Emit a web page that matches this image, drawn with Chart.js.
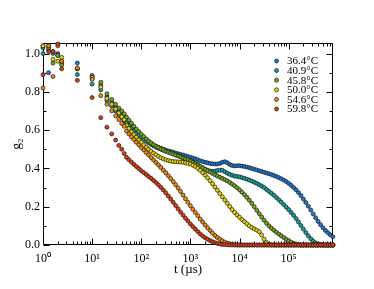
<!DOCTYPE html>
<html><head><meta charset="utf-8">
<script src="https://cdn.jsdelivr.net/npm/chart.js@4"></script>
<style>html,body{margin:0;padding:0;background:#fff;overflow:hidden}canvas{display:block}</style>
</head><body>
<canvas id="c" width="374" height="289"></canvas>
<script>
// lag times (µs)
const times = [1, 1.3, 1.6, 2, 2.4, 5, 10, 15, 20, 25, 30, 35, 40, 45,
  50, 56.2, 63.1, 70.8, 79.4, 89.1,
  100, 112, 126, 141, 158, 178, 200, 224, 251, 282, 316, 355, 398, 447, 501, 562, 631, 708, 794, 891,
  1000, 1122, 1259, 1413, 1585, 1778, 1995, 2239, 2512, 2818, 3162, 3548, 3981, 4467, 5012, 5623, 6310, 7079, 7943, 8913,
  10000, 11220, 12589, 14125, 15849, 17783, 19953, 22387, 25119, 28184, 31623, 35481, 39811, 44668, 50119, 56234, 63096, 70795, 79433, 89125,
  100000, 112202, 125893, 141254, 158489, 177828, 199526, 223872, 251189, 281838, 316228, 354813, 398107, 446684, 501187, 562341, 630957, 707946, 794328];

const g2_364 = [1.03, 0.90, 1.01, 1.00, 0.96, 0.95, 0.885, 0.835, 0.775, 0.745, 0.72, 0.70, 0.685, 0.67,
  0.655, 0.64, 0.625, 0.61, 0.597, 0.585,
  0.572, 0.56, 0.55, 0.54, 0.53, 0.522, 0.515, 0.51, 0.505, 0.5, 0.495, 0.491, 0.488, 0.484, 0.48, 0.477, 0.473, 0.47, 0.466, 0.462,
  0.458, 0.454, 0.45, 0.445, 0.44, 0.436, 0.432, 0.429, 0.426, 0.424, 0.423, 0.423, 0.426, 0.432, 0.435, 0.43, 0.421, 0.415, 0.413, 0.414,
  0.414, 0.412, 0.41, 0.407, 0.404, 0.4, 0.396, 0.392, 0.388, 0.384, 0.38, 0.376, 0.372, 0.368, 0.363, 0.358, 0.352, 0.346, 0.339, 0.331,
  0.322, 0.312, 0.3, 0.288, 0.274, 0.258, 0.24, 0.222, 0.203, 0.183, 0.162, 0.142, 0.123, 0.106, 0.09, 0.076, 0.064, 0.053, 0.043];

const g2_409 = [1.00, 1.02, 1.00, 0.99, 0.95, 0.89, 0.84, 0.81, 0.755, 0.725, 0.70, 0.68, 0.665, 0.65,
  0.637, 0.623, 0.61, 0.597, 0.585, 0.574,
  0.563, 0.553, 0.543, 0.534, 0.525, 0.518, 0.511, 0.505, 0.5, 0.495, 0.49, 0.486, 0.482, 0.477, 0.472, 0.467, 0.462, 0.456, 0.45, 0.444,
  0.438, 0.432, 0.425, 0.418, 0.41, 0.402, 0.395, 0.39, 0.386, 0.385, 0.386, 0.389, 0.391, 0.39, 0.383, 0.375, 0.369, 0.364, 0.36, 0.358,
  0.356, 0.352, 0.348, 0.344, 0.339, 0.334, 0.328, 0.322, 0.315, 0.308, 0.3, 0.29, 0.28, 0.27, 0.26, 0.248, 0.236, 0.224, 0.211, 0.198,
  0.185, 0.17, 0.155, 0.138, 0.12, 0.102, 0.083, 0.065, 0.048, 0.033, 0.02, 0.011, 0.005, 0.002, 0, 0, 0, 0, 0];

const g2_458 = [1.04, 1.03, 0.95, 0.99, 0.94, 0.92, 0.875, 0.85, 0.79, 0.76, 0.735, 0.715, 0.70, 0.685,
  0.668, 0.652, 0.636, 0.62, 0.605, 0.592,
  0.579, 0.566, 0.554, 0.543, 0.533, 0.524, 0.516, 0.509, 0.502, 0.496, 0.49, 0.485, 0.48, 0.475, 0.47, 0.465, 0.46, 0.455, 0.45, 0.445,
  0.439, 0.432, 0.425, 0.418, 0.41, 0.402, 0.395, 0.388, 0.381, 0.374, 0.367, 0.36, 0.354, 0.348, 0.342, 0.335, 0.327, 0.318, 0.309, 0.299,
  0.288, 0.276, 0.263, 0.249, 0.234, 0.218, 0.2, 0.182, 0.164, 0.146, 0.129, 0.114, 0.1, 0.088, 0.077, 0.067, 0.057, 0.048, 0.039, 0.03,
  0.022, 0.015, 0.009, 0.005, 0.002, 0, 0, 0, 0, 0, 0, 0, 0, 0, 0, 0, 0, 0, 0];

const g2_500 = [1.04, 1.04, 0.97, 0.96, 0.98, 0.92, 0.875, 0.825, 0.765, 0.735, 0.71, 0.69, 0.67, 0.655,
  0.625, 0.608, 0.592, 0.577, 0.563, 0.549,
  0.536, 0.523, 0.511, 0.5, 0.49, 0.48, 0.471, 0.463, 0.456, 0.45, 0.445, 0.441, 0.438, 0.436, 0.435, 0.434, 0.433, 0.432, 0.43, 0.427,
  0.423, 0.417, 0.41, 0.401, 0.39, 0.378, 0.365, 0.351, 0.336, 0.32, 0.303, 0.286, 0.269, 0.252, 0.235, 0.218, 0.201, 0.185, 0.17, 0.157,
  0.145, 0.133, 0.122, 0.111, 0.1, 0.091, 0.084, 0.078, 0.07, 0.052, 0.03, 0.013, 0.004, 0.001, 0, 0, 0, 0, 0, 0,
  0, 0, 0, 0, 0, 0, 0, 0, 0, 0, 0, 0, 0, 0, 0, 0, 0, 0, 0];

const g2_546 = [0.82, 1.04, 0.88, 1.04, 0.96, 0.925, 0.865, 0.78, 0.735, 0.70, 0.675, 0.655, 0.635, 0.62,
  0.595, 0.58, 0.565, 0.551, 0.537, 0.523,
  0.509, 0.496, 0.483, 0.47, 0.457, 0.444, 0.431, 0.418, 0.405, 0.391, 0.377, 0.362, 0.347, 0.331, 0.315, 0.298, 0.28, 0.261, 0.242, 0.223,
  0.205, 0.187, 0.17, 0.153, 0.136, 0.12, 0.105, 0.09, 0.076, 0.062, 0.05, 0.039, 0.03, 0.022, 0.015, 0.01, 0.006, 0.003, 0.001, 0,
  0, 0, 0, 0, 0, 0, 0, 0, 0, 0, 0, 0, 0, 0, 0, 0, 0, 0, 0, 0,
  0, 0, 0, 0, 0, 0, 0, 0, 0, 0, 0, 0, 0, 0, 0, 0, 0, 0, 0];

const g2_598 = [0.89, 1.01, 1.01, 1.05, 0.92, 0.86, 0.77, 0.665, 0.615, 0.58, 0.548, 0.52, 0.50, 0.478,
  0.458, 0.445, 0.433, 0.421, 0.41, 0.399,
  0.388, 0.378, 0.368, 0.358, 0.348, 0.337, 0.326, 0.314, 0.301, 0.287, 0.272, 0.256, 0.24, 0.223, 0.206, 0.189, 0.172, 0.156, 0.14, 0.125,
  0.11, 0.096, 0.083, 0.07, 0.058, 0.047, 0.038, 0.03, 0.023, 0.017, 0.012, 0.008, 0.005, 0.003, 0.002, 0.001, 0, 0, 0, 0,
  0, 0, 0, 0, 0, 0, 0, 0, 0, 0, 0, 0, 0, 0, 0, 0, 0, 0, 0, 0,
  0, 0, 0, 0, 0, 0, 0, 0, 0, 0, 0, 0, 0, 0, 0, 0, 0, 0, 0];

const seriesLabels = ['36.4°C', '40.9°C', '45.8°C', '50.0°C', '54.6°C', '59.8°C'];
const seriesValues = [g2_364, g2_409, g2_458, g2_500, g2_546, g2_598];
const seriesColors = ['#2277d6', '#16a0a0', '#74a61e', '#ecd200', '#f08a0a', '#e23a10'];

const xTickValues = [1, 10, 100, 1000, 10000, 100000];
const xTickLabels = ['10⁰', '10¹', '10²', '10³', '10⁴', '10⁵'];
const yTickValues = [0, 0.2, 0.4, 0.6, 0.8, 1.0];
const yMinorValues = [0.1, 0.3, 0.5, 0.7, 0.9];
const xMinorValues = [];
xTickValues.forEach(d => { for (let m = 2; m <= 9; m++) { if (d * m < 800000) xMinorValues.push(d * m); } });

const FONT = "'Liberation Serif', 'Times New Roman', serif";

const datasets = seriesValues.map((vals, i) => ({
  label: seriesLabels[i],
  data: times.map((t, k) => ({ x: t, y: vals[k] })),
  backgroundColor: seriesColors[i],
  borderColor: '#1a1a1a',
  borderWidth: 0.7,
  pointRadius: 2.0,
  showLine: false,
  clip: false,
  order: seriesValues.length - i
}));

const framePlugin = {
  id: 'frame',
  beforeDatasetsDraw(chart) {
    const { ctx, chartArea: a, scales: { x, y } } = chart;
    ctx.save();
    ctx.strokeStyle = '#000';
    ctx.lineWidth = 1;
    ctx.beginPath();
    const L = Math.round(a.left) + 0.5, R = Math.round(a.right) - 0.5;
    const T = Math.round(a.top) + 0.5, B = Math.round(a.bottom) - 0.5;
    ctx.rect(L, T, R - L, B - T);
    const tickY = (v, len) => {
      const py = Math.round(y.getPixelForValue(v)) + 0.5;
      ctx.moveTo(L, py); ctx.lineTo(L + len, py);
      ctx.moveTo(R, py); ctx.lineTo(R - len, py);
    };
    const tickX = (v, len) => {
      const px = Math.round(x.getPixelForValue(v)) + 0.5;
      ctx.moveTo(px, B); ctx.lineTo(px, B - len);
      ctx.moveTo(px, T); ctx.lineTo(px, T + len);
    };
    yTickValues.forEach(v => tickY(v, 6));
    yMinorValues.forEach(v => tickY(v, 3));
    xTickValues.forEach(v => tickX(v, 6));
    xMinorValues.forEach(v => tickX(v, 3));
    ctx.stroke();
    ctx.restore();
  },
  afterDatasetsDraw(chart) {
    const { ctx } = chart;
    ctx.save();
    ctx.font = '11px ' + FONT;
    ctx.textBaseline = 'middle';
    ctx.textAlign = 'left';
    chart.data.datasets.forEach((ds, i) => {
      const yy = 61 + i * 9.6;
      ctx.beginPath();
      ctx.arc(276.5, yy, 2.0, 0, Math.PI * 2);
      ctx.fillStyle = ds.backgroundColor;
      ctx.fill();
      ctx.lineWidth = 0.7;
      ctx.strokeStyle = '#1a1a1a';
      ctx.stroke();
      ctx.fillStyle = '#000';
      ctx.fillText(ds.label, 287, yy + 0.5);
    });
    ctx.restore();
  }
};

new Chart(document.getElementById('c'), {
  type: 'scatter',
  data: { datasets },
  options: {
    responsive: false,
    animation: false,
    events: [],
    layout: { padding: { left: 0, right: 41, top: 43, bottom: 0 } },
    plugins: { legend: { display: false }, tooltip: { enabled: false } },
    scales: {
      x: {
        type: 'logarithmic',
        min: 1, max: 800000,
        grid: { display: false, drawTicks: false },
        border: { display: false },
        afterFit: s => { s.height = 44; },
        afterBuildTicks: s => { s.ticks = xTickValues.map(v => ({ value: v })); },
        ticks: {
          autoSkip: false, maxRotation: 0, padding: 7,
          color: '#000', font: { family: FONT, size: 12 },
          callback: (v) => { const k = xTickValues.indexOf(v); return k >= 0 ? xTickLabels[k] : ''; }
        },
        title: { display: true, text: 't (µs)', color: '#000', font: { family: FONT, size: 13 }, padding: { top: 0, bottom: 12 } }
      },
      y: {
        min: 0, max: 1.055,
        grid: { display: false, drawTicks: false },
        border: { display: false },
        afterFit: s => { s.width = 43; },
        afterBuildTicks: s => { s.ticks = yTickValues.map(v => ({ value: v })); },
        ticks: {
          autoSkip: false, padding: 3,
          color: '#000', font: { family: FONT, size: 12 },
          callback: (v) => Number(v).toFixed(1)
        },
        title: { display: true, text: 'g₂', color: '#000', font: { family: FONT, size: 13 }, padding: { top: 9, bottom: 0 } }
      }
    }
  },
  plugins: [framePlugin]
});
</script>
</body></html>
